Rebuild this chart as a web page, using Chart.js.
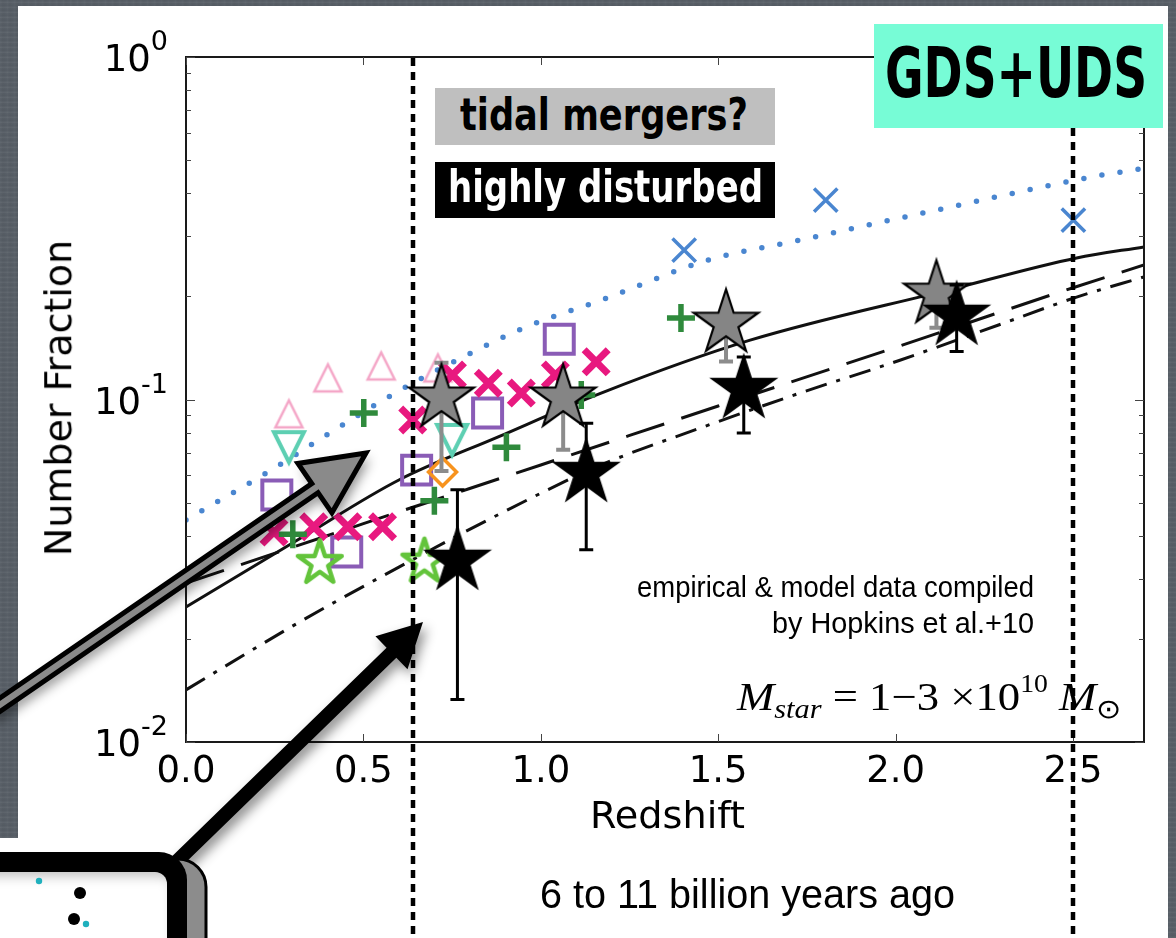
<!DOCTYPE html>
<html>
<head>
<meta charset="utf-8">
<script src="https://cdn.jsdelivr.net/npm/chart.js@4.4.1/dist/chart.umd.min.js"></script>
<style>
  html, body { margin: 0; padding: 0; }
  body {
    width: 1176px; height: 938px; overflow: hidden; position: relative;
    background-color: #596068;
    background-image:
      repeating-linear-gradient(0deg, rgba(255,255,255,0.035) 0px, rgba(255,255,255,0.035) 1px, rgba(0,0,0,0.04) 2px, rgba(0,0,0,0) 5px),
      repeating-linear-gradient(90deg, rgba(255,255,255,0.02) 0px, rgba(0,0,0,0.03) 3px, rgba(0,0,0,0) 7px);
  }
  .panel { position: absolute; background: #fff; }
  #c { position: absolute; left: 0; top: 0; z-index: 2; }
  .box { position: absolute; z-index: 3; }
  .t { position: absolute; white-space: nowrap; line-height: 1; transform-origin: 0 0; z-index: 4; color: #000; }
  .sans { font-family: "Liberation Sans", "Arial", sans-serif; }
  .cond { font-family: "Liberation Sans Narrow", "DejaVu Sans Condensed", "Liberation Sans", sans-serif; font-weight: bold; }
  .dv { font-family: "DejaVu Sans", sans-serif; }
  .math { font-family: "Liberation Serif", "DejaVu Serif", serif; }
  .math i { font-style: italic; }
  .math .sub { font-size: 68%; position: relative; top: 0.32em; }
  .math .sup { font-size: 62%; position: relative; top: -0.72em; }
  .math .odot { font-family: "DejaVu Sans", sans-serif; font-weight: 300; }
</style>
</head>
<body>
<div class="panel" style="left:18px; top:6px; width:1150px; height:932px;"></div>
<div class="panel" style="left:0; top:838px; width:30px; height:100px;"></div>

<canvas id="c" width="1176" height="938" style="width:1176px;height:938px;"></canvas>

<div class="box" style="left:435px; top:88px; width:340px; height:57px; background:#bfbfbf;"></div>
<div class="box" style="left:435px; top:162px; width:340px; height:56px; background:#000;"></div>
<div class="box" style="left:874px; top:24px; width:289px; height:104px; background:#77fcd6;"></div>

<div class="t cond" id="tTidal">tidal mergers?</div>
<div class="t cond" id="tHighly" style="color:#fff;">highly disturbed</div>
<div class="t cond" id="tField">GDS+UDS</div>
<div class="t sans" id="tAge">6 to 11 billion years ago</div>
<div class="t sans" id="tEmp">empirical &amp; model data compiled</div>
<div class="t sans" id="tHop">by Hopkins et al.+10</div>
<div class="t math" id="tMass"><i>M</i><span class="sub"><i>star</i></span> = 1−3 ×10<span class="sup">10</span> <i>M</i><span class="sub odot">⊙</span></div>
<div class="t dv" id="tXTitle">Redshift</div>
<div class="t dv" id="tYTitle">Number Fraction</div>

<script>
// ---------------- data ----------------
// axis ticks
const xTickValues = [0.0, 0.5, 1.0, 1.5, 2.0, 2.5];
const yMajorTicks = [0.01, 0.1, 1];
const yMinorTicks = [0.02, 0.03, 0.04, 0.05, 0.06, 0.07, 0.08, 0.09,
                     0.2, 0.3, 0.4, 0.5, 0.6, 0.7, 0.8, 0.9];
const yTickBase = ['10', '10', '10'];
const yTickExp = ['-2', '-1', '0'];

// redshift window boundaries (vertical dotted lines)
const epochEdges = [0.64, 2.5];

// model / fit curves
const fitDotZ = [0, 0.24, 0.41, 0.59, 0.78, 0.96, 1.17, 1.47, 1.73, 2.14, 2.55, 2.7];
const fitDotF = [0.0445, 0.0622, 0.0804, 0.1045, 0.133, 0.163, 0.195, 0.255, 0.292, 0.362, 0.446, 0.473];

const modelSolidZ = [0, 0.32, 0.6, 0.88, 1.17, 1.59, 2.15, 2.51, 2.7];
const modelSolidF = [0.0248, 0.0392, 0.0582, 0.0778, 0.1044, 0.149, 0.209, 0.259, 0.279];

const modelDashZ = [0, 0.5, 1.0, 1.5, 2.0, 2.5, 2.7];
const modelDashF = [0.0291, 0.0434, 0.0644, 0.0957, 0.142, 0.212, 0.247];

const modelDashDotZ = [0, 0.32, 0.6, 0.88, 1.17, 1.45, 1.73, 2.01, 2.29, 2.51, 2.7];
const modelDashDotF = [0.0142, 0.0224, 0.0324, 0.0461, 0.0644, 0.0826, 0.1044, 0.130, 0.165, 0.199, 0.228];

// compiled literature points
const pinkTriZ = [0.29, 0.40, 0.55, 0.71];
const pinkTriF = [0.0908, 0.1156, 0.1253, 0.1236];

const tealTriZ = [0.29, 0.75];
const tealTriF = [0.0726, 0.0762];

const purpleSqZ = [0.256, 0.453, 0.65, 0.85, 1.052];
const purpleSqF = [0.0526, 0.0359, 0.0622, 0.0913, 0.150];

const magentaXZ = [0.248, 0.36, 0.456, 0.554, 0.639, 0.751, 0.852, 0.945, 1.041, 1.156];
const magentaXF = [0.041, 0.0425, 0.0425, 0.0425, 0.0871, 0.118, 0.1116, 0.1044, 0.118, 0.1288];

const greenPlusZ = [0.301, 0.501, 0.70, 0.903, 1.114, 1.395];
const greenPlusF = [0.0404, 0.0913, 0.0506, 0.0726, 0.1031, 0.173];

const openStarZ = [0.377, 0.672];
const openStarF = [0.0333, 0.0336];

const orangeDiaZ = [0.723];
const orangeDiaF = [0.0614];

const blueXZ = [1.404, 1.803, 2.501];
const blueXF = [0.273, 0.382, 0.334];

// this work: tidal mergers? (grey) and highly disturbed (black)
const tidalZ = [0.72, 1.063, 1.522, 2.115];
const tidalF = [0.101, 0.101, 0.167, 0.203];
const tidalLo = [0.0618, 0.0713, 0.129, 0.162];
const tidalHi = [0.128, 0.112, 0.18, 0.22];

const disturbedZ = [0.765, 1.128, 1.572, 2.172];
const disturbedF = [0.0338, 0.061, 0.1073, 0.1755];
const disturbedLo = [0.0133, 0.0364, 0.0798, 0.138];
const disturbedHi = [0.0545, 0.0853, 0.133, 0.216];

// ---------------- marker sprites ----------------
function starSprite(R, fill, stroke, lw, join) {
  const pad = Math.ceil(lw * 3) + 2;
  const s = 2 * R + 2 * pad;
  const c = document.createElement('canvas');
  c.width = s; c.height = s;
  const g = c.getContext('2d');
  g.translate(s / 2, s / 2);
  g.beginPath();
  for (let i = 0; i < 10; i++) {
    const r = i % 2 ? R * 0.382 : R;
    const a = -Math.PI / 2 + i * Math.PI / 5;
    if (i === 0) g.moveTo(r * Math.cos(a), r * Math.sin(a));
    else g.lineTo(r * Math.cos(a), r * Math.sin(a));
  }
  g.closePath();
  if (fill) { g.fillStyle = fill; g.fill(); }
  if (lw) { g.lineJoin = join || 'miter'; g.lineWidth = lw; g.strokeStyle = stroke; g.stroke(); }
  return c;
}

function triSprite(h, stroke, lw, down) {
  const pad = Math.ceil(lw) + 3;
  const s = 2 * h + 2 * pad;
  const c = document.createElement('canvas');
  c.width = s; c.height = s;
  const g = c.getContext('2d');
  g.translate(s / 2, s / 2);
  const d = down ? -1 : 1;
  g.beginPath();
  g.moveTo(0, -h * d);
  g.lineTo(-h, h * d);
  g.lineTo(h, h * d);
  g.closePath();
  g.lineJoin = 'miter';
  g.lineWidth = lw; g.strokeStyle = stroke; g.stroke();
  return c;
}

const pts = (zs, fs) => zs.map((z, i) => ({ x: z, y: fs[i] }));

function curve(zs, fs, color, width, dash, order, cap) {
  return {
    data: pts(zs, fs), showLine: true, pointRadius: 0, pointHoverRadius: 0,
    borderColor: color, borderWidth: width, borderDash: dash,
    borderCapStyle: cap || 'butt', cubicInterpolationMode: 'monotone',
    fill: false, order: order
  };
}

function marks(zs, fs, style, r, color, bw, order, extra) {
  return Object.assign({
    data: pts(zs, fs), showLine: false, pointStyle: style,
    pointRadius: r, pointHoverRadius: r,
    pointBorderColor: color, pointBackgroundColor: 'rgba(0,0,0,0)',
    pointBorderWidth: bw, order: order
  }, extra || {});
}

const datasets = [
  Object.assign(marks(disturbedZ, disturbedF, starSprite(34, '#000', '#000', 1.5), 30, '#000', 0, 1),
    { errLo: disturbedLo, errHi: disturbedHi, errColor: '#000', errWidth: 3 }),
  Object.assign(marks(tidalZ, tidalF, starSprite(34, '#858585', '#000', 2.2), 30, '#000', 0, 2),
    { errLo: tidalLo, errHi: tidalHi, errColor: '#8c8c8c', errWidth: 4 }),
  marks(blueXZ, blueXF, 'crossRot', 16.5, '#4a86d0', 3.5, 3),
  marks(orangeDiaZ, orangeDiaF, 'rectRot', 14, '#f7931e', 3.5, 4),
  marks(greenPlusZ, greenPlusF, 'cross', 14, '#2f8a3c', 5.5, 5),
  marks(openStarZ, openStarF, starSprite(23, null, '#63c43b', 4.5, 'round'), 20, '#63c43b', 0, 6),
  marks(magentaXZ, magentaXF, 'crossRot', 17, '#e8197f', 7, 7),
  marks(purpleSqZ, purpleSqF, 'rect', 20.5, '#8a5cb6', 4, 8),
  marks(tealTriZ, tealTriF, triSprite(15, '#5dcfb2', 4, true), 16, '#5dcfb2', 0, 9),
  marks(pinkTriZ, pinkTriF, triSprite(13.5, '#f4a6c7', 2.5, false), 14, '#f4a6c7', 0, 10),
  curve(modelSolidZ, modelSolidF, '#111', 3, [], 11),
  curve(modelDashZ, modelDashF, '#111', 3, [40, 18], 12),
  curve(modelDashDotZ, modelDashDotF, '#111', 3, [22, 10, 4, 10], 13),
  curve(fitDotZ, fitDotF, '#4a86d0', 5.5, [0, 18.3], 14, 'round')
];

// ---------------- extra drawing ----------------
function roundRectPath(ctx, x, y, w, h, r) {
  ctx.beginPath();
  ctx.moveTo(x + r, y);
  ctx.lineTo(x + w - r, y);
  ctx.arcTo(x + w, y, x + w, y + r, r);
  ctx.lineTo(x + w, y + h - r);
  ctx.arcTo(x + w, y + h, x + w - r, y + h, r);
  ctx.lineTo(x + r, y + h);
  ctx.arcTo(x, y + h, x, y + h - r, r);
  ctx.lineTo(x, y + r);
  ctx.arcTo(x, y, x + r, y, r);
  ctx.closePath();
}

function arrowPath(ctx, x0, y0, x1, y1, shaftHW, headLen, headHW) {
  const dx = x1 - x0, dy = y1 - y0, L = Math.hypot(dx, dy);
  const ux = dx / L, uy = dy / L, nx = -uy, ny = ux;
  const bx = x1 - ux * headLen, by = y1 - uy * headLen;
  ctx.beginPath();
  ctx.moveTo(x0 + nx * shaftHW, y0 + ny * shaftHW);
  ctx.lineTo(bx + nx * shaftHW, by + ny * shaftHW);
  ctx.lineTo(bx + nx * headHW, by + ny * headHW);
  ctx.lineTo(x1, y1);
  ctx.lineTo(bx - nx * headHW, by - ny * headHW);
  ctx.lineTo(bx - nx * shaftHW, by - ny * shaftHW);
  ctx.lineTo(x0 - nx * shaftHW, y0 - ny * shaftHW);
  ctx.closePath();
}

const decor = {
  id: 'decor',
  beforeDatasetDraw(chart, args) {
    const ds = chart.data.datasets[args.index];
    if (!ds.errLo) return;
    const { ctx, scales: { x, y } } = chart;
    const cap = 7;
    ctx.save();
    ctx.strokeStyle = ds.errColor;
    ctx.lineWidth = ds.errWidth;
    ds.data.forEach((p, i) => {
      const px = x.getPixelForValue(p.x);
      const ylo = y.getPixelForValue(ds.errLo[i]);
      const yhi = y.getPixelForValue(ds.errHi[i]);
      ctx.beginPath();
      ctx.moveTo(px, ylo); ctx.lineTo(px, yhi);
      ctx.moveTo(px - cap, ylo); ctx.lineTo(px + cap, ylo);
      ctx.moveTo(px - cap, yhi); ctx.lineTo(px + cap, yhi);
      ctx.stroke();
    });
    ctx.restore();
  },
  afterDatasetsDraw(chart) {
    const { ctx, chartArea: { left, right, top, bottom }, scales: { x, y } } = chart;
    ctx.save();
    // frame
    ctx.strokeStyle = '#1a1a1a';
    ctx.lineWidth = 2;
    ctx.strokeRect(left, top, right - left, bottom - top);
    // inward ticks
    ctx.strokeStyle = '#444';
    ctx.lineWidth = 1;
    const seg = (a, b, c, d) => { ctx.beginPath(); ctx.moveTo(a, b); ctx.lineTo(c, d); ctx.stroke(); };
    xTickValues.forEach(v => {
      const px = Math.round(x.getPixelForValue(v)) + 0.5;
      seg(px, bottom, px, bottom - 8);
      seg(px, top, px, top + 8);
    });
    yMajorTicks.forEach(v => {
      const py = Math.round(y.getPixelForValue(v)) + 0.5;
      seg(left, py, left + 9, py);
      seg(right, py, right - 9, py);
    });
    yMinorTicks.forEach(v => {
      const py = Math.round(y.getPixelForValue(v)) + 0.5;
      seg(left, py, left + 5, py);
      seg(right, py, right - 5, py);
    });
    // y tick labels with exponents
    ctx.fillStyle = '#000';
    ctx.textBaseline = 'alphabetic';
    ctx.textAlign = 'right';
    yMajorTicks.forEach((v, i) => {
      const py = y.getPixelForValue(v);
      ctx.font = '27px "DejaVu Sans"';
      const ew = ctx.measureText(yTickExp[i]).width;
      ctx.fillText(yTickExp[i], 168, py - 7);
      ctx.font = '37px "DejaVu Sans"';
      ctx.fillText(yTickBase[i], 168 - ew, py + 14);
    });
    // redshift window edges
    ctx.strokeStyle = '#000';
    ctx.lineWidth = 4.5;
    ctx.setLineDash([8, 6]);
    epochEdges.forEach(v => {
      const px = Math.round(x.getPixelForValue(v));
      seg(px, 58, px, 938);
    });
    ctx.restore();
  },
  afterDraw(chart) {
    const { ctx } = chart;
    ctx.save();
    // grey arrow pointing at the tidal-merger points
    ctx.shadowColor = 'rgba(0,0,0,0.45)';
    ctx.shadowBlur = 12; ctx.shadowOffsetX = 4; ctx.shadowOffsetY = 6;
    arrowPath(ctx, -12, 713, 366, 453, 5.5, 62, 30);
    ctx.fillStyle = '#8a8a8a';
    ctx.fill();
    ctx.shadowColor = 'rgba(0,0,0,0)';
    ctx.lineJoin = 'miter';
    ctx.lineWidth = 5; ctx.strokeStyle = '#000';
    ctx.stroke();
    // black arrow pointing at the highly disturbed points
    ctx.shadowColor = 'rgba(0,0,0,0.45)';
    ctx.shadowBlur = 12; ctx.shadowOffsetX = 4; ctx.shadowOffsetY = 6;
    arrowPath(ctx, 170, 868, 423, 622, 7, 44, 23);
    ctx.fillStyle = '#000';
    ctx.fill();
    ctx.shadowColor = 'rgba(0,0,0,0)';
    // inset frame, lower left
    roundRectPath(ctx, -40, 859, 246, 140, 28);
    ctx.fillStyle = '#8c8c8c'; ctx.fill();
    ctx.lineWidth = 3; ctx.strokeStyle = '#000'; ctx.stroke();
    roundRectPath(ctx, -40, 852, 227, 140, 28);
    ctx.fillStyle = '#000'; ctx.fill();
    roundRectPath(ctx, -40, 872, 207, 120, 12);
    ctx.fillStyle = '#fff'; ctx.fill();
    ctx.save();
    ctx.clip();
    ctx.shadowColor = 'rgba(0,0,0,0.35)';
    ctx.shadowBlur = 14;
    roundRectPath(ctx, -60, 862, 237, 140, 16);
    ctx.lineWidth = 12; ctx.strokeStyle = '#000'; ctx.stroke();
    ctx.restore();
    // dots inside the inset
    const dot = (cx, cy, r, col) => { ctx.beginPath(); ctx.arc(cx, cy, r, 0, Math.PI * 2); ctx.fillStyle = col; ctx.fill(); };
    dot(80, 893, 6, '#000');
    dot(74, 919, 6, '#000');
    dot(39, 881, 3.2, '#1fb0bd');
    dot(86, 924, 3.2, '#1fb0bd');
    ctx.restore();
  }
};

new Chart(document.getElementById('c'), {
  type: 'scatter',
  data: { datasets },
  options: {
    responsive: false,
    animation: false,
    devicePixelRatio: 1,
    events: [],
    layout: { padding: { left: 0, top: 57, right: 32, bottom: 0 } },
    plugins: { legend: { display: false }, tooltip: { enabled: false } },
    scales: {
      x: {
        type: 'linear', min: 0, max: 2.7,
        grid: { display: false, drawTicks: false },
        border: { display: false },
        afterBuildTicks: s => { s.ticks = xTickValues.map(v => ({ value: v })); },
        afterFit: s => { s.height = 196; },
        ticks: {
          font: { family: 'DejaVu Sans', size: 37 }, color: '#000', padding: 8,
          maxRotation: 0, autoSkip: false, callback: v => Number(v).toFixed(1)
        }
      },
      y: {
        type: 'logarithmic', min: 0.01, max: 1,
        grid: { display: false, drawTicks: false },
        border: { display: false },
        ticks: { display: false },
        afterFit: s => { s.width = 186; }
      }
    }
  },
  plugins: [decor]
});

// ---------------- text placement ----------------
function place(id, o) {
  const el = document.getElementById(id);
  el.style.fontSize = o.size + 'px';
  el.style.transform = 'none';
  el.style.left = '0px'; el.style.top = '0px';
  const w = el.getBoundingClientRect().width;
  const sx = o.width ? o.width / w : 1;
  const W = w * sx;
  const lx = o.align === 'right' ? o.x - W : o.align === 'center' ? o.x - W / 2 : o.x;
  el.style.left = lx + 'px';
  el.style.top = (o.baseline - (o.k || 0.846) * o.size) + 'px';
  el.style.transform = 'scaleX(' + sx + ')';
}

function placeAll() {
  place('tTidal', { x: 604, align: 'center', baseline: 130, size: 44, width: 288 });
  place('tHighly', { x: 605, align: 'center', baseline: 202, size: 44, width: 315 });
  place('tField', { x: 885, align: 'left', baseline: 97, size: 70, width: 262 });
  place('tAge', { x: 540, align: 'left', baseline: 908, size: 40, width: 415 });
  place('tEmp', { x: 1034, align: 'right', baseline: 598, size: 29, width: 397 });
  place('tHop', { x: 1034, align: 'right', baseline: 634, size: 29, width: 262 });
  place('tMass', { x: 737, align: 'left', baseline: 710, size: 40, width: 385, k: 0.8375 });
  place('tXTitle', { x: 667, align: 'center', baseline: 828, size: 38, width: 155 });
  // rotated y title
  const el = document.getElementById('tYTitle');
  el.style.fontSize = '38px';
  el.style.transform = 'none';
  el.style.left = '0px'; el.style.top = '0px';
  const r = el.getBoundingClientRect();
  el.style.transformOrigin = '50% 50%';
  el.style.left = (58 - r.width / 2) + 'px';
  el.style.top = (398 - r.height / 2) + 'px';
  el.style.transform = 'rotate(-90deg)';
}
placeAll();
if (document.fonts && document.fonts.ready) document.fonts.ready.then(placeAll);
</script>
</body>
</html>
